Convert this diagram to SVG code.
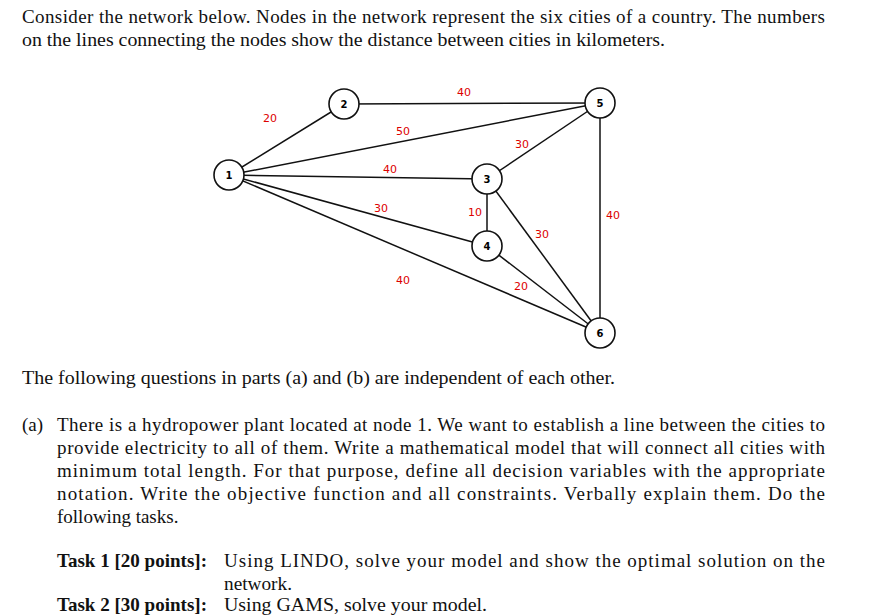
<svg xmlns="http://www.w3.org/2000/svg" width="882" height="615" viewBox="0 0 882 615">
<style>
.t{font-family:"Liberation Serif",serif;font-size:19px;fill:#111}
.b{font-weight:bold}
.e{stroke:#111;stroke-width:1.5;fill:none}
.n circle{fill:#fff;stroke:#111;stroke-width:1.6}
.n text{font-family:"DejaVu Sans",sans-serif;font-size:10px;font-weight:bold;text-anchor:middle}
.l{font-family:"DejaVu Sans",sans-serif;font-size:11px;fill:#d00;text-anchor:middle}
</style>
<rect width="882" height="615" fill="#fff"/>
<text class="t" x="22" y="23" textLength="803" lengthAdjust="spacing">Consider the network below. Nodes in the network represent the six cities of a country. The numbers</text>
<text class="t" x="22" y="46" textLength="643" lengthAdjust="spacingAndGlyphs">on the lines connecting the nodes show the distance between cities in kilometers.</text>
<g id="edges">
<line class="e" x1="229" y1="175" x2="344" y2="104"/>
<line class="e" x1="344" y1="104" x2="600" y2="103"/>
<line class="e" x1="229" y1="175" x2="600" y2="103"/>
<line class="e" x1="229" y1="175" x2="487" y2="179"/>
<line class="e" x1="229" y1="175" x2="487" y2="246"/>
<line class="e" x1="229" y1="175" x2="600" y2="333"/>
<line class="e" x1="487" y1="179" x2="600" y2="103"/>
<line class="e" x1="487" y1="179" x2="487" y2="246"/>
<line class="e" x1="487" y1="179" x2="600" y2="333"/>
<line class="e" x1="487" y1="246" x2="600" y2="333"/>
<line class="e" x1="600" y1="103" x2="600" y2="333"/>
<text class="l" x="270" y="122">20</text>
<text class="l" x="403" y="135">50</text>
<text class="l" x="464" y="96">40</text>
<text class="l" x="522" y="148">30</text>
<text class="l" x="390" y="173">40</text>
<text class="l" x="381" y="212">30</text>
<text class="l" x="475" y="216">10</text>
<text class="l" x="613" y="219">40</text>
<text class="l" x="542" y="238">30</text>
<text class="l" x="403" y="284">40</text>
<text class="l" x="521" y="290">20</text>
</g>
<g id="n1" class="n"><circle cx="229" cy="175" r="15"/><text x="229" y="179">1</text></g>
<g id="n2" class="n"><circle cx="344" cy="104" r="15"/><text x="344" y="108">2</text></g>
<g id="n3" class="n"><circle cx="487" cy="179" r="15"/><text x="487" y="183">3</text></g>
<g id="n4" class="n"><circle cx="487" cy="246" r="15"/><text x="487" y="250">4</text></g>
<g id="n5" class="n"><circle cx="600" cy="103" r="15"/><text x="600" y="107">5</text></g>
<g id="n6" class="n"><circle cx="600" cy="333" r="15"/><text x="600" y="337">6</text></g>
<text class="t" x="22" y="384" textLength="593" lengthAdjust="spacingAndGlyphs">The following questions in parts (a) and (b) are independent of each other.</text>
<text class="t" x="22" y="431">(a)</text>
<text class="t" x="57" y="431" textLength="768" lengthAdjust="spacing">There is a hydropower plant located at node 1. We want to establish a line between the cities to</text>
<text class="t" x="57" y="454" textLength="768" lengthAdjust="spacing">provide electricity to all of them. Write a mathematical model that will connect all cities with</text>
<text class="t" x="57" y="477" textLength="768" lengthAdjust="spacing">minimum total length. For that purpose, define all decision variables with the appropriate</text>
<text class="t" x="57" y="500" textLength="768" lengthAdjust="spacing">notation. Write the objective function and all constraints. Verbally explain them. Do the</text>
<text class="t" x="57" y="523">following tasks.</text>
<text class="t b" x="57" y="567" textLength="150" lengthAdjust="spacingAndGlyphs">Task 1 [20 points]:</text>
<text class="t" x="224" y="567" textLength="601" lengthAdjust="spacing">Using LINDO, solve your model and show the optimal solution on the</text>
<text class="t" x="224" y="590" textLength="68" lengthAdjust="spacingAndGlyphs">network.</text>
<text class="t b" x="57" y="611" textLength="150" lengthAdjust="spacingAndGlyphs">Task 2 [30 points]:</text>
<text class="t" x="224" y="611" textLength="263" lengthAdjust="spacingAndGlyphs">Using GAMS, solve your model.</text>
</svg>
